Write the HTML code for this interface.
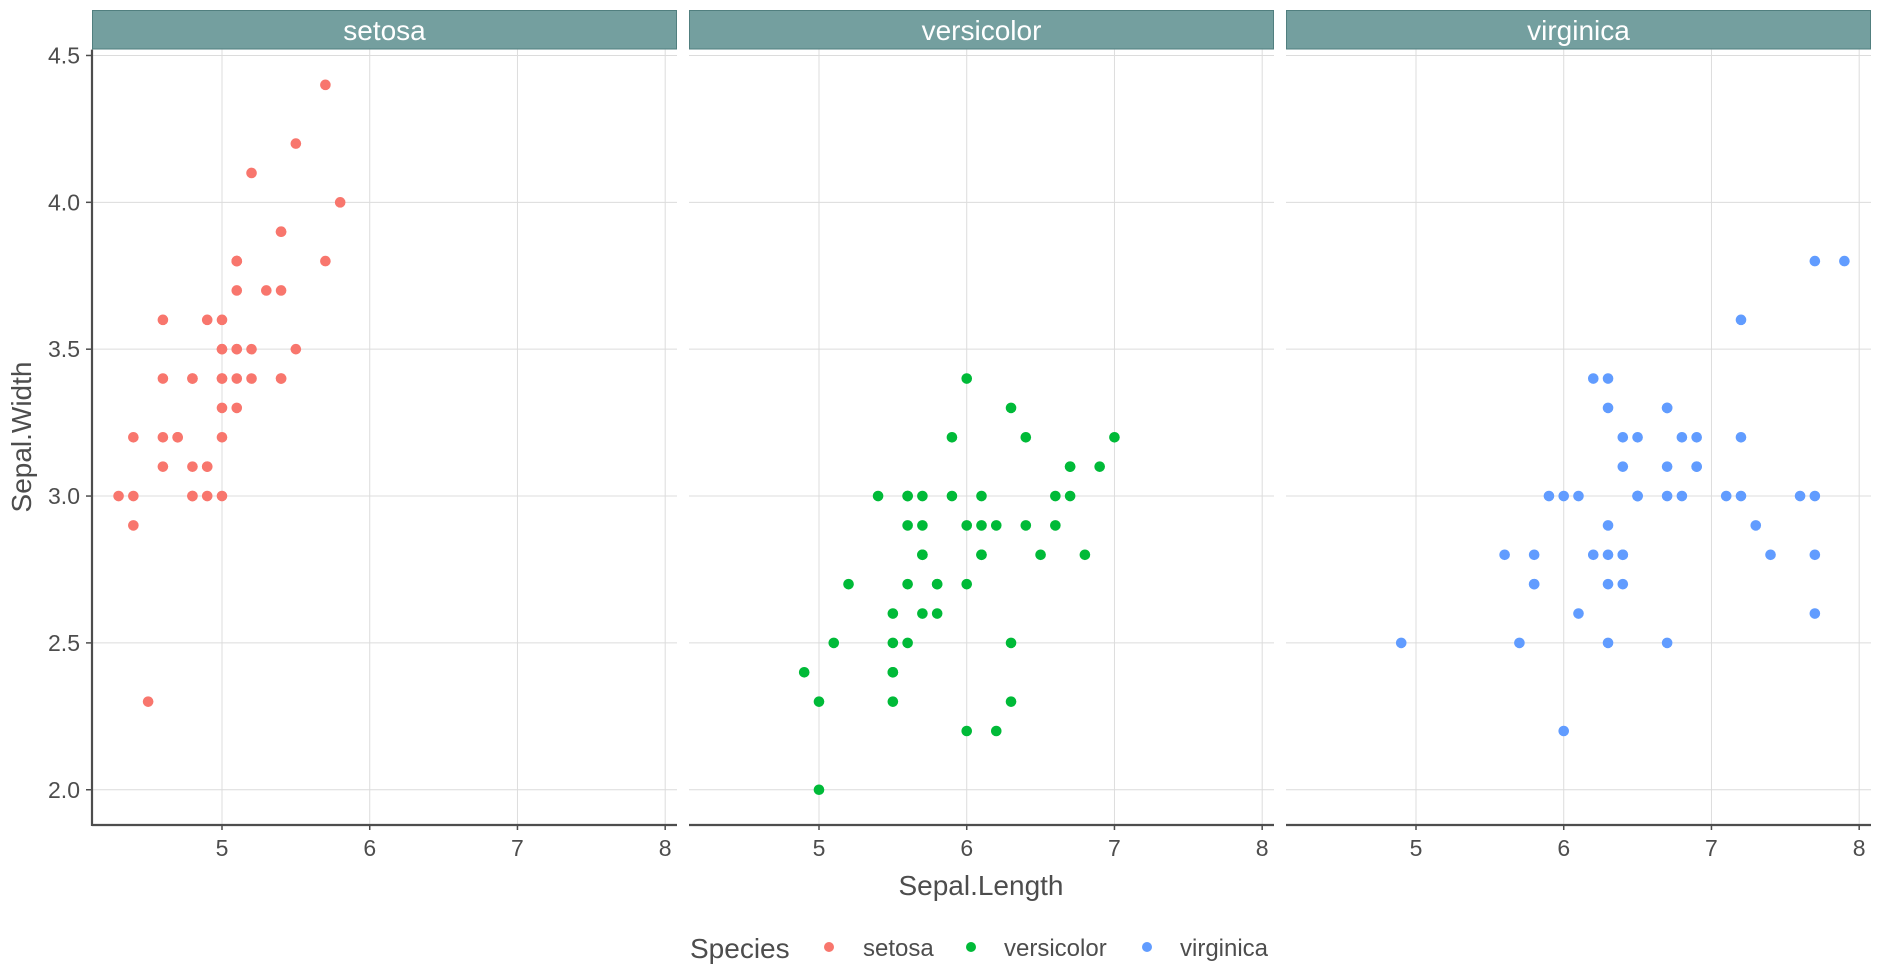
<!DOCTYPE html>
<html><head><meta charset="utf-8"><style>
html,body{margin:0;padding:0;background:#fff;}
svg{display:block;font-family:"Liberation Sans",sans-serif;}
</style></head><body>
<svg id="chart" width="1878" height="976" viewBox="0 0 1878 976" xmlns="http://www.w3.org/2000/svg"></svg>
<script>
const species = ["setosa","versicolor","virginica"];
const colors = ["#F8766D","#00BA38","#619CFF"];
const xTicks = [5,6,7,8];
const yTicks = [2.0,2.5,3.0,3.5,4.0,4.5];
const yTickLabels = ["2.0","2.5","3.0","3.5","4.0","4.5"];
const setosaLen = [5.1,4.9,4.7,4.6,5.0,5.4,4.6,5.0,4.4,4.9,5.4,4.8,4.8,4.3,5.8,5.7,5.4,5.1,5.7,5.1,5.4,5.1,4.6,5.1,4.8,5.0,5.0,5.2,5.2,4.7,4.8,5.4,5.2,5.5,4.9,5.0,5.5,4.9,4.4,5.1,5.0,4.5,4.4,5.0,5.1,4.8,5.1,4.6,5.3,5.0];
const setosaWid = [3.5,3.0,3.2,3.1,3.6,3.9,3.4,3.4,2.9,3.1,3.7,3.4,3.0,3.0,4.0,4.4,3.9,3.5,3.8,3.8,3.4,3.7,3.6,3.3,3.4,3.0,3.4,3.5,3.4,3.2,3.1,3.4,4.1,4.2,3.1,3.2,3.5,3.6,3.0,3.4,3.5,2.3,3.2,3.5,3.8,3.0,3.8,3.2,3.7,3.3];
const versiLen = [7.0,6.4,6.9,5.5,6.5,5.7,6.3,4.9,6.6,5.2,5.0,5.9,6.0,6.1,5.6,6.7,5.6,5.8,6.2,5.6,5.9,6.1,6.3,6.1,6.4,6.6,6.8,6.7,6.0,5.7,5.5,5.5,5.8,6.0,5.4,6.0,6.7,6.3,5.6,5.5,5.5,6.1,5.8,5.0,5.6,5.7,5.7,6.2,5.1,5.7];
const versiWid = [3.2,3.2,3.1,2.3,2.8,2.8,3.3,2.4,2.9,2.7,2.0,3.0,2.2,2.9,2.9,3.1,3.0,2.7,2.2,2.5,3.2,2.8,2.5,2.8,2.9,3.0,2.8,3.0,2.9,2.6,2.4,2.4,2.7,2.7,3.0,3.4,3.1,2.3,3.0,2.5,2.6,3.0,2.6,2.3,2.7,3.0,2.9,2.9,2.5,2.8];
const virgLen = [6.3,5.8,7.1,6.3,6.5,7.6,4.9,7.3,6.7,7.2,6.5,6.4,6.8,5.7,5.8,6.4,6.5,7.7,7.7,6.0,6.9,5.6,7.7,6.3,6.7,7.2,6.2,6.1,6.4,7.2,7.4,7.9,6.4,6.3,6.1,7.7,6.3,6.4,6.0,6.9,6.7,6.9,5.8,6.8,6.7,6.7,6.3,6.5,6.2,5.9];
const virgWid = [3.3,2.7,3.0,2.9,3.0,3.0,2.5,2.9,2.5,3.6,3.2,2.7,3.0,2.5,2.8,3.2,3.0,3.8,2.6,2.2,3.2,2.8,2.8,2.7,3.3,3.2,2.8,3.0,2.8,3.0,2.8,3.8,2.8,2.8,2.6,3.0,3.4,3.1,3.0,3.1,3.1,3.1,2.7,3.2,3.3,3.0,2.5,3.0,3.4,3.0];

const NS = "http://www.w3.org/2000/svg";
const svg = document.getElementById("chart");
function mk(tag, attrs, parent){ const e=document.createElementNS(NS,tag); for(const k in attrs) e.setAttribute(k,attrs[k]); (parent||svg).appendChild(e); return e; }
const panelLefts=[92,689,1286], panelW=585, pTop=49.6, pBottom=825;
const xMin=4.12,xMax=8.08,yMin=1.88,yMax=4.52;
function xs(p,v){return panelLefts[p]+(v-xMin)/(xMax-xMin)*panelW;}
function ys(v){return pBottom-(v-yMin)/(yMax-yMin)*(pBottom-pTop);}
const data=[[setosaLen,setosaWid],[versiLen,versiWid],[virgLen,virgWid]];
const grey="#4d4d4d";
for(let p=0;p<3;p++){
  const g=mk("g",{});
  
  
  yTicks.forEach(t=>{const l=mk("line",{x1:panelLefts[p],x2:panelLefts[p]+panelW,y1:ys(t),y2:ys(t),stroke:"#dcdcdc","stroke-width":1},g);
    
    });
  xTicks.forEach(t=>{const l=mk("line",{x1:xs(p,t),x2:xs(p,t),y1:pTop,y2:pBottom,stroke:"#dcdcdc","stroke-width":1},g);
    
    });
  const strip=mk("rect",{x:panelLefts[p]+0.5,y:10.5,width:panelW-1,height:38.5,fill:"#749f9f",stroke:"#517f7f","stroke-width":1},g);
  
  
  const st=mk("text",{x:panelLefts[p]+panelW/2,y:40,"text-anchor":"middle",fill:"#fff","font-size":28},g);
  st.textContent=species[p];
  
  
  const ax=mk("line",{x1:panelLefts[p],x2:panelLefts[p]+panelW,y1:pBottom,y2:pBottom,stroke:grey,"stroke-width":2.2},g);
  
  
  xTicks.forEach(t=>{
    const tk=mk("line",{x1:xs(p,t),x2:xs(p,t),y1:pBottom,y2:pBottom+5,stroke:grey,"stroke-width":1.5},g);
    
    
    const tl=mk("text",{x:xs(p,t),y:856,"text-anchor":"middle",fill:grey,"font-size":23},g);
    tl.textContent=String(t);
    
    
  });
  const [xv,yv]=data[p];
  xv.forEach((v,i)=>{const c=mk("circle",{cx:xs(p,v),cy:ys(yv[i]),r:5.3,fill:colors[p]},g);
    
    });
}
const yax=mk("line",{x1:92,x2:92,y1:pTop,y2:pBottom+1,stroke:grey,"stroke-width":2.2});


yTicks.forEach((t,i)=>{
  const tk=mk("line",{x1:86,x2:92,y1:ys(t),y2:ys(t),stroke:grey,"stroke-width":1.5});
  
  
  const tl=mk("text",{x:80,y:ys(t)+8,"text-anchor":"end",fill:grey,"font-size":23});
  tl.textContent=yTickLabels[i];
  
  
});
const xt=mk("text",{x:981,y:895,"text-anchor":"middle",fill:grey,"font-size":28});
xt.textContent="Sepal.Length";


const yt=mk("text",{x:0,y:0,"text-anchor":"middle",fill:grey,"font-size":28,transform:"translate(31,437) rotate(-90)"});
yt.textContent="Sepal.Width";


const lt=mk("text",{x:690,y:958,fill:grey,"font-size":28});
lt.textContent="Species";


const dotX=[829,971,1147], txtX=[863,1004,1180];
species.forEach((s,i)=>{
  const c=mk("circle",{cx:dotX[i],cy:947,r:5,fill:colors[i]});
  
  
  const t=mk("text",{x:txtX[i],y:956,fill:grey,"font-size":24});
  t.textContent=s;
  
  
});
</script>
</body></html>
